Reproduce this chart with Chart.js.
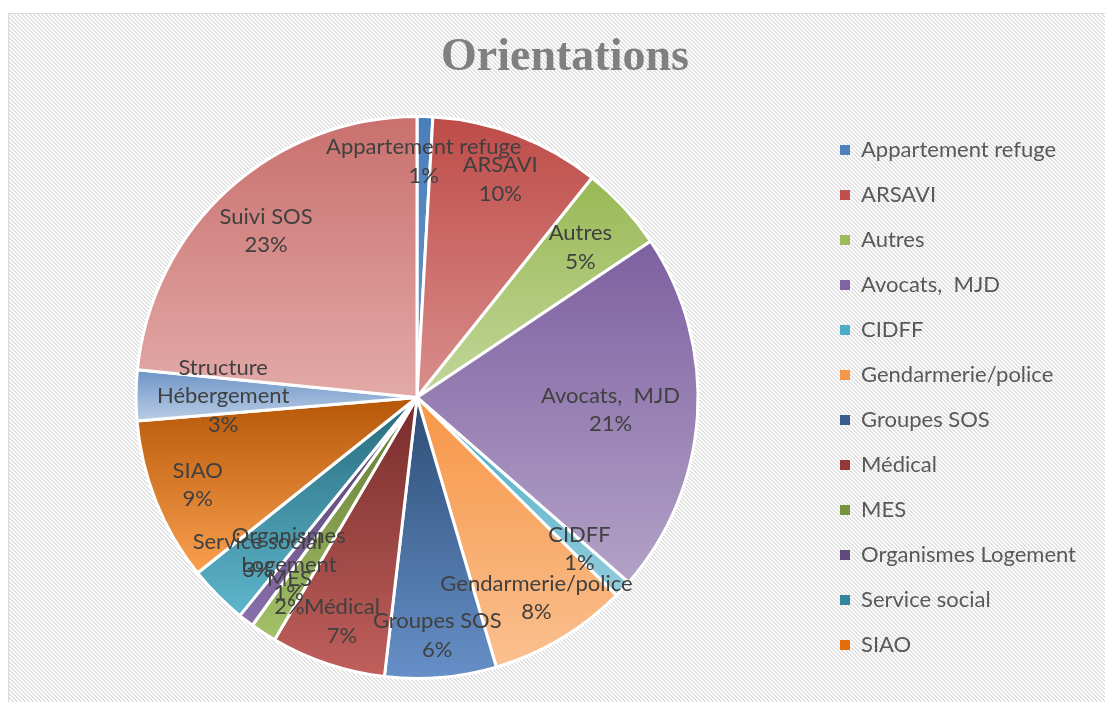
<!DOCTYPE html>
<html lang="fr">
<head>
<meta charset="utf-8">
<title>Orientations</title>
<script src="https://cdn.jsdelivr.net/npm/chart.js@4.4.1/dist/chart.umd.min.js"></script>
<style>
  html, body { margin: 0; padding: 0; background: #fff; overflow: hidden; width: 1105px; height: 702px; }
  #cadre { position: absolute; left: 8px; top: 13px; width: 1120px; height: 700px; border: 1px solid #d9d9d9; }
  #zone { position: absolute; left: 9px; top: 14px; width: 1112px; height: 688px; }
</style>
</head>
<body>
<div id="cadre"></div>
<div id="zone"><canvas id="graphique"></canvas></div>
<script>
const titre = "Orientations";
const categories = [
    "Appartement refuge", "ARSAVI", "Autres", "Avocats,  MJD", "CIDFF",
    "Gendarmerie/police", "Groupes SOS", "Médical", "MES", "Organismes Logement",
    "Service social", "SIAO", "Structure Hébergement", "Suivi SOS"
];
const valeurs = [0.9, 9.8, 4.9, 20.8, 1.0, 8.0, 6.4, 6.6, 1.5, 0.9, 3.4, 9.4, 2.9, 23.4];

// la légende de l'original s'arrête à SIAO
const nbLegende = 12;

// couleurs (haut / bas du dégradé de chaque part, couleur pleine pour la légende)
const couleursHaut = [
    "#4a7ebb", "#be4b48", "#98b954", "#7d60a0", "#46aac5", "#f79646", "#2c4d75",
    "#772c2a", "#5f7530", "#4d3b62", "#276a7c", "#b65708", "#6c94c7", "#c9706d"
];
const couleursBas = [
    "#6c97cc", "#d98f8d", "#c3d69b", "#b3a2c7", "#93cddd", "#fac090", "#6690c8",
    "#c0605d", "#a5c26a", "#8a70ad", "#5eb6cc", "#f9a04f", "#b9cde5", "#e2aaa8"
];
const couleursLegende = [
    "#4f81bd", "#c0504d", "#9bbb59", "#8064a2", "#4bacc6", "#f79646", "#385d8a",
    "#953735", "#76923c", "#604a7b", "#31859c", "#e46c0a", "#95b3d7", "#d99694"
];
// distance des étiquettes au centre (fraction du rayon)
const rayonEtiquettes = [0.84, 0.83, 0.79, 0.69, 0.79, 0.83, 0.85, 0.84, 0.83, 0.75, 0.80, 0.84, 0.69, 0.80];

// fond hachuré
const motif = document.createElement("canvas");
motif.width = 4; motif.height = 4;
const mctx = motif.getContext("2d");
mctx.fillStyle = "#ffffff";
mctx.fillRect(0, 0, 4, 4);
mctx.fillStyle = "#e0e0e0";
for (let y = 0; y < 4; y++) {
    for (let x = 0; x < 4; x++) {
        const k = ((x - y) % 4 + 4) % 4;
        if (k === 0 || k === 1) mctx.fillRect(x, y, 1, 1);
    }
}
document.getElementById("cadre").style.backgroundImage = "url(" + motif.toDataURL() + ")";

// titre centré sur toute la largeur du cadre
const titreCentre = {
    id: "titreCentre",
    afterDraw(chart) {
        const ctx = chart.ctx;
        ctx.save();
        ctx.font = "bold 46px 'Liberation Serif'";
        ctx.fillStyle = "#808080";
        ctx.textAlign = "center";
        ctx.textBaseline = "middle";
        ctx.fillText(titre, chart.width / 2, 44);
        ctx.restore();
    }
};

const degrade = {
    id: "degrade",
    beforeDatasetsDraw(chart) {
        const ctx = chart.ctx;
        chart.getDatasetMeta(0).data.forEach((arc, i) => {
            const { x, y, startAngle, endAngle, outerRadius } = arc;
            const ys = [y, y + outerRadius * Math.sin(startAngle), y + outerRadius * Math.sin(endAngle)];
            [-Math.PI / 2, Math.PI / 2, 3 * Math.PI / 2].forEach((a) => {
                if (a > startAngle && a < endAngle) ys.push(y + outerRadius * Math.sin(a));
            });
            const g = ctx.createLinearGradient(0, Math.min(...ys), 0, Math.max(...ys));
            g.addColorStop(0, couleursHaut[i]);
            g.addColorStop(1, couleursBas[i]);
            arc.options = Object.assign({}, arc.options, { backgroundColor: g });
        });
    }
};

function couper(ctx, texte, largeurMax) {
    if (ctx.measureText(texte).width <= largeurMax) return [texte];
    const mots = texte.split(" ");
    const lignes = [];
    let ligne = "";
    mots.forEach((m) => {
        const essai = ligne ? ligne + " " + m : m;
        if (ligne && ctx.measureText(essai).width > largeurMax) {
            lignes.push(ligne);
            ligne = m;
        } else {
            ligne = essai;
        }
    });
    lignes.push(ligne);
    return lignes;
}

const etiquettes = {
    id: "etiquettes",
    afterDatasetsDraw(chart) {
        const ctx = chart.ctx;
        const total = valeurs.reduce((a, b) => a + b, 0);
        ctx.save();
        ctx.font = "22px Lato";
        ctx.fillStyle = "#404040";
        ctx.textAlign = "center";
        ctx.textBaseline = "middle";
        chart.getDatasetMeta(0).data.forEach((arc, i) => {
            const lignes = couper(ctx, categories[i], 205);
            lignes.push(Math.round(valeurs[i] / total * 100) + "%");
            const milieu = (arc.startAngle + arc.endAngle) / 2;
            const d = arc.outerRadius * rayonEtiquettes[i];
            const x = arc.x + Math.cos(milieu) * d;
            const y = arc.y + Math.sin(milieu) * d;
            const y0 = y - (lignes.length - 1) * 28.5 / 2;
            lignes.forEach((t, k) => ctx.fillText(t, x, y0 + k * 28.5));
        });
        ctx.restore();
    }
};

const legendeParDefaut = (Chart.overrides.pie.plugins.legend.labels.generateLabels
    || Chart.overrides.doughnut.plugins.legend.labels.generateLabels);

const chart = new Chart(document.getElementById("graphique"), {
    type: "pie",
    data: {
        labels: categories,
        datasets: [{
            data: valeurs,
            backgroundColor: couleursLegende,
            borderColor: "#ffffff",
            borderWidth: 3
        }]
    },
    options: {
        responsive: true,
        maintainAspectRatio: false,
        animation: false,
        layout: { padding: { left: 8, right: 35, top: 101, bottom: 22 } },
        plugins: {
            title: { display: false },
            legend: {
                position: "right",
                align: "center",
                labels: {
                    font: { family: "Lato", size: 22 },
                    color: "#595959",
                    boxWidth: 10,
                    boxHeight: 10,
                    padding: 23,
                    filter: (item) => item.index < nbLegende,
                    generateLabels: (c) => legendeParDefaut(c).map((it) =>
                        Object.assign(it, { fillStyle: couleursLegende[it.index], lineWidth: 0, strokeStyle: "transparent" }))
                }
            },
            tooltip: { enabled: false }
        }
    },
    plugins: [degrade, etiquettes, titreCentre]
});
</script>
</body>
</html>
